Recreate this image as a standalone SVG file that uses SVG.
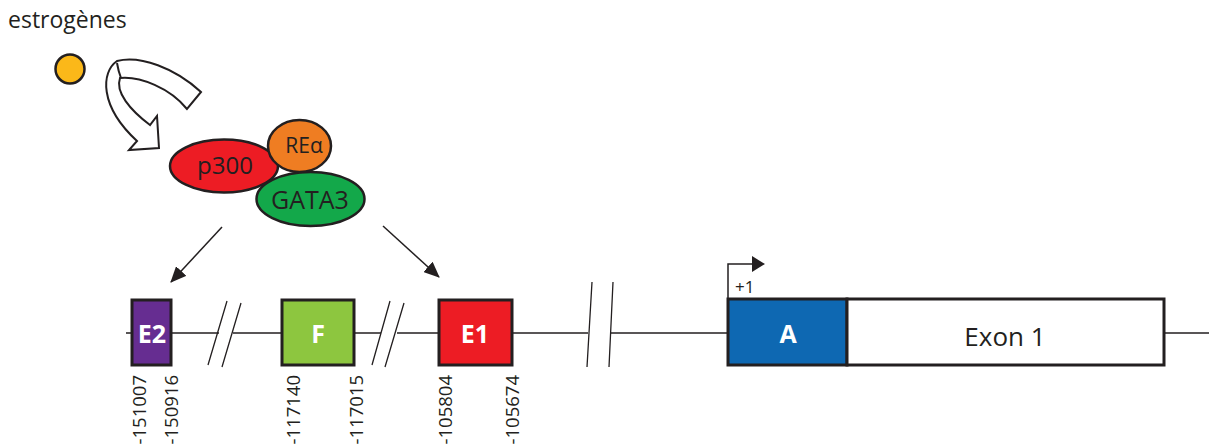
<svg xmlns="http://www.w3.org/2000/svg" width="1209" height="444" viewBox="0 0 1209 444">
<defs>
<marker id="ah" markerWidth="16" markerHeight="14" refX="15" refY="7" orient="auto" markerUnits="userSpaceOnUse" viewBox="0 0 16 14">
<path d="M0,0 L16,7 L0,14 Z" fill="#231F20"/>
</marker>
</defs>
<style>
text{font-family:"Open Sans","Noto Sans",sans-serif;fill:#231F20}
.ln{stroke:#231F20;stroke-width:1.5;fill:none}
.box{stroke:#231F20;stroke-width:3}
.bl{fill:#fff;font-weight:bold;font-size:25px;text-anchor:middle}
.pos{font-size:18.5px;text-anchor:end}
.prot{stroke:#231F20;stroke-width:2.5}
.brk{stroke:#231F20;stroke-width:1.3;fill:none}
</style>
<rect width="1209" height="444" fill="#fff"/>
<text x="8" y="28" font-size="23">estrogènes</text>
<g id="estrogen"><circle cx="70" cy="69" r="14.5" fill="#FBB819" stroke="#231F20" stroke-width="2.5"/></g>
<g id="curved-arrow">
<path d="M201,92 C175,68 140,55 117,61 C101,72 99,106 137,141 L129,150 L159,148 L157,116 L150,125 C130,110 115,92 120,78 C140,76 170,88 187,109 Z" fill="#fff" stroke="#231F20" stroke-width="2"/>
<path d="M117,63 C118,69 119,73 121,78" fill="none" stroke="#231F20" stroke-width="2"/>
</g>
<g id="p300"><ellipse cx="224" cy="166" rx="54" ry="26.5" fill="#ED1C24" class="prot"/><text x="225" y="174" font-size="24" text-anchor="middle">p300</text></g>
<g id="gata3"><ellipse cx="310.5" cy="199" rx="54" ry="27" fill="#13A84A" class="prot"/><text x="310" y="209" font-size="25" text-anchor="middle">GATA3</text></g>
<g id="rea"><ellipse cx="299.5" cy="146" rx="31.5" ry="26" fill="#EF7D22" class="prot"/><text x="304" y="153" font-size="21" text-anchor="middle">REα</text></g>
<g id="connectors">
<line x1="222" y1="227" x2="171" y2="282" stroke="#231F20" stroke-width="1.5" marker-end="url(#ah)"/>
<line x1="383" y1="226" x2="439" y2="277" stroke="#231F20" stroke-width="1.5" marker-end="url(#ah)"/>
<path class="ln" d="M126,333 H219 M233,333 H381 M397,333 H588 M610,333 H728 M1164,333 H1209"/>
<path class="brk" d="M208,365 L227,301 M222,367 L241,303 M372,365 L390,301 M385,367 L404,303 M587,367 L592,282 M609,367 L613,282"/>
<path d="M728,299 V264 H753" fill="none" stroke="#231F20" stroke-width="1.5"/>
<path d="M752,256 L765,264 L752,272 Z" fill="#231F20"/>
</g>
<g id="E2"><rect x="132" y="300" width="39" height="65" fill="#662D91" class="box"/><text x="152" y="343" class="bl">E2</text></g>
<g id="F"><rect x="282" y="300" width="72" height="65" fill="#8DC63F" class="box"/><text x="318" y="343" class="bl">F</text></g>
<g id="E1"><rect x="439" y="300" width="73" height="65" fill="#ED1C24" class="box"/><text x="475" y="343" class="bl">E1</text></g>
<g id="A"><rect x="728" y="299" width="119" height="66" fill="#0E68B2" class="box"/><text x="788" y="343" class="bl">A</text></g>
<g id="exon1"><rect x="847" y="299" width="317" height="66" fill="#fff" class="box"/><text x="1005" y="346" font-size="26" text-anchor="middle">Exon 1</text></g>
<text x="735" y="293" font-size="17">+1</text>
<g id="positions">
<text class="pos" transform="translate(146,375) rotate(-90)">-151007</text>
<text class="pos" transform="translate(178,375) rotate(-90)">-150916</text>
<text class="pos" transform="translate(300,375) rotate(-90)">-117140</text>
<text class="pos" transform="translate(363,375) rotate(-90)">-117015</text>
<text class="pos" transform="translate(452,375) rotate(-90)">-105804</text>
<text class="pos" transform="translate(519,375) rotate(-90)">-105674</text>
</g>
</svg>
